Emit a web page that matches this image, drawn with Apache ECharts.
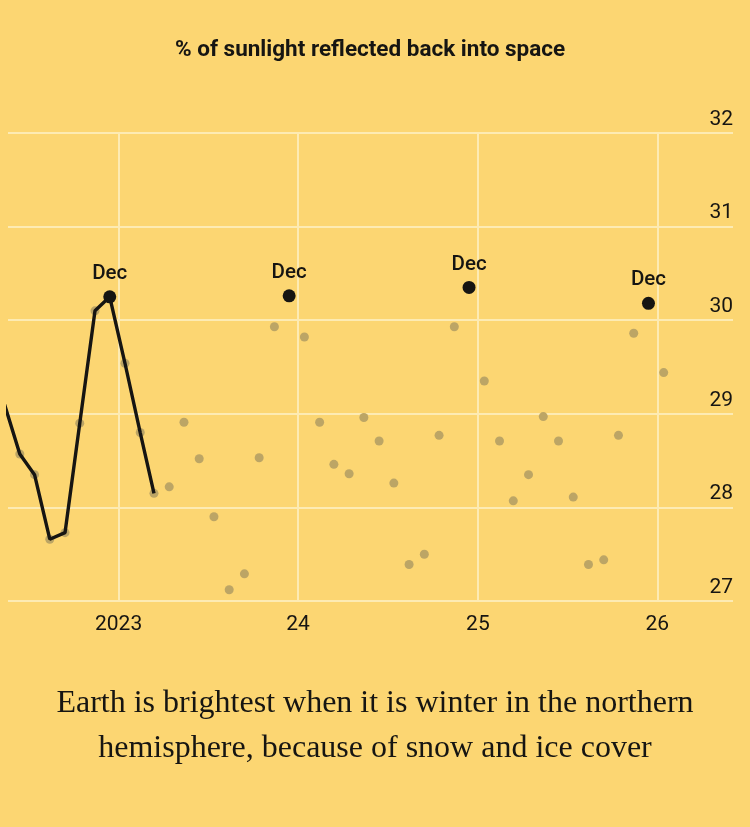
<!DOCTYPE html>
<html>
<head>
<meta charset="utf-8">
<script src="https://cdn.jsdelivr.net/npm/echarts@6/dist/echarts.min.js"></script>
<style>
html,body{margin:0;padding:0;background:#fcd672;}
#chart{width:750px;height:827px;}
</style>
</head>
<body>
<div id="chart"></div>
<script>
// Monthly albedo (% of sunlight reflected back into space)
const months = [
  '2022-05','2022-06','2022-07','2022-08','2022-09','2022-10','2022-11','2022-12',
  '2023-01','2023-02','2023-03','2023-04','2023-05','2023-06','2023-07','2023-08','2023-09','2023-10','2023-11','2023-12',
  '2024-01','2024-02','2024-03','2024-04','2024-05','2024-06','2024-07','2024-08','2024-09','2024-10','2024-11','2024-12',
  '2025-01','2025-02','2025-03','2025-04','2025-05','2025-06','2025-07','2025-08','2025-09','2025-10','2025-11','2025-12',
  '2026-01'
];
const albedo = [
  29.10, 28.57, 28.35, 27.66, 27.73, 28.90, 30.10, 30.25,
  29.54, 28.80, 28.15, 28.22, 28.91, 28.52, 27.90, 27.12, 27.29, 28.53, 29.93, 30.26,
  29.82, 28.91, 28.46, 28.36, 28.96, 28.71, 28.26, 27.39, 27.50, 28.77, 29.93, 30.35,
  29.35, 28.71, 28.07, 28.35, 28.97, 28.71, 28.11, 27.39, 27.44, 28.77, 29.86, 30.18,
  29.44
];
const lineEndMonth = '2023-03';           // black line runs from start to here
const highlightMonths = ['2022-12','2023-12','2024-12','2025-12'];
const highlightLabel = 'Dec';
const yearTicks = [2023, 2024, 2025, 2026];
const yearTickLabels = ['2023', '24', '25', '26'];
const yTicks = [27, 28, 29, 30, 31, 32];
const xRange = ['2022-05-21', '2026-06-04'];

const DAY = 86400000;
function ts(s) { const p = s.split('-').map(Number); return Date.UTC(p[0], p[1] - 1, p[2] || 1); }
const allPoints = months.map((m, i) => [ts(m) + 13 * DAY, albedo[i]]);
const lineEndIdx = months.indexOf(lineEndMonth);
const linePoints = allPoints.slice(0, lineEndIdx + 1);
const decPoints = allPoints.filter((p, i) => highlightMonths.includes(months[i]));
const yearTickValues = yearTicks.map(y => Date.UTC(y, 0, 1));

const chart = echarts.init(document.getElementById('chart'));
const ink = '#161512';
const gridColor = '#fdebb3';

chart.setOption({
  backgroundColor: '#fcd672',
  animation: false,
  title: [
    {
      text: '% of sunlight reflected back into space',
      left: 170,
      top: 34,
      textStyle: { fontFamily: 'Roboto', fontSize: 22.5, fontWeight: 700, color: ink }
    },
    {
      text: 'Earth is brightest when it is winter in the northern\nhemisphere, because of snow and ice cover',
      left: 'center',
      top: 676,
      textStyle: { fontFamily: 'Liberation Serif', fontSize: 32, fontWeight: 400, color: ink, lineHeight: 45, align: 'center' }
    }
  ],
  grid: { left: 8, right: 17, top: 133, bottom: 226, containLabel: false },
  xAxis: {
    type: 'value',
    min: ts(xRange[0]),
    max: ts(xRange[1]),
    axisLine: { show: false },
    axisTick: { show: false, customValues: yearTickValues },
    axisLabel: {
      customValues: yearTickValues,
      formatter: function (v) {
        const y = new Date(v).getUTCFullYear();
        return yearTickLabels[yearTicks.indexOf(y)];
      },
      fontFamily: 'Roboto', fontSize: 21, color: ink, margin: 13
    },
    splitLine: { show: true, lineStyle: { color: gridColor, width: 2 } }
  },
  yAxis: {
    type: 'value',
    position: 'right',
    min: yTicks[0],
    max: yTicks[yTicks.length - 1],
    interval: 1,
    axisLine: { show: false },
    axisTick: { show: false },
    axisLabel: {
      inside: true,
      margin: 0,
      verticalAlign: 'bottom',
      padding: [0, 0, 3, 0],
      fontFamily: 'Roboto', fontSize: 21, color: ink
    },
    splitLine: { show: true, lineStyle: { color: gridColor, width: 2 } }
  },
  series: [
    {
      type: 'scatter',
      data: allPoints,
      symbolSize: 9,
      itemStyle: { color: '#bca565', opacity: 1 },
      clip: true,
      z: 2
    },
    {
      type: 'line',
      data: linePoints,
      showSymbol: false,
      symbol: 'none',
      lineStyle: { color: ink, width: 3.4, opacity: 1 },
      clip: true,
      z: 3
    },
    {
      type: 'scatter',
      data: decPoints,
      symbolSize: 13,
      itemStyle: { color: ink, opacity: 1 },
      label: {
        show: true,
        position: 'top',
        distance: 6,
        formatter: highlightLabel,
        fontFamily: 'Roboto', fontSize: 20.5, fontWeight: 500, color: ink
      },
      z: 4
    }
  ]
});
</script>
</body>
</html>
